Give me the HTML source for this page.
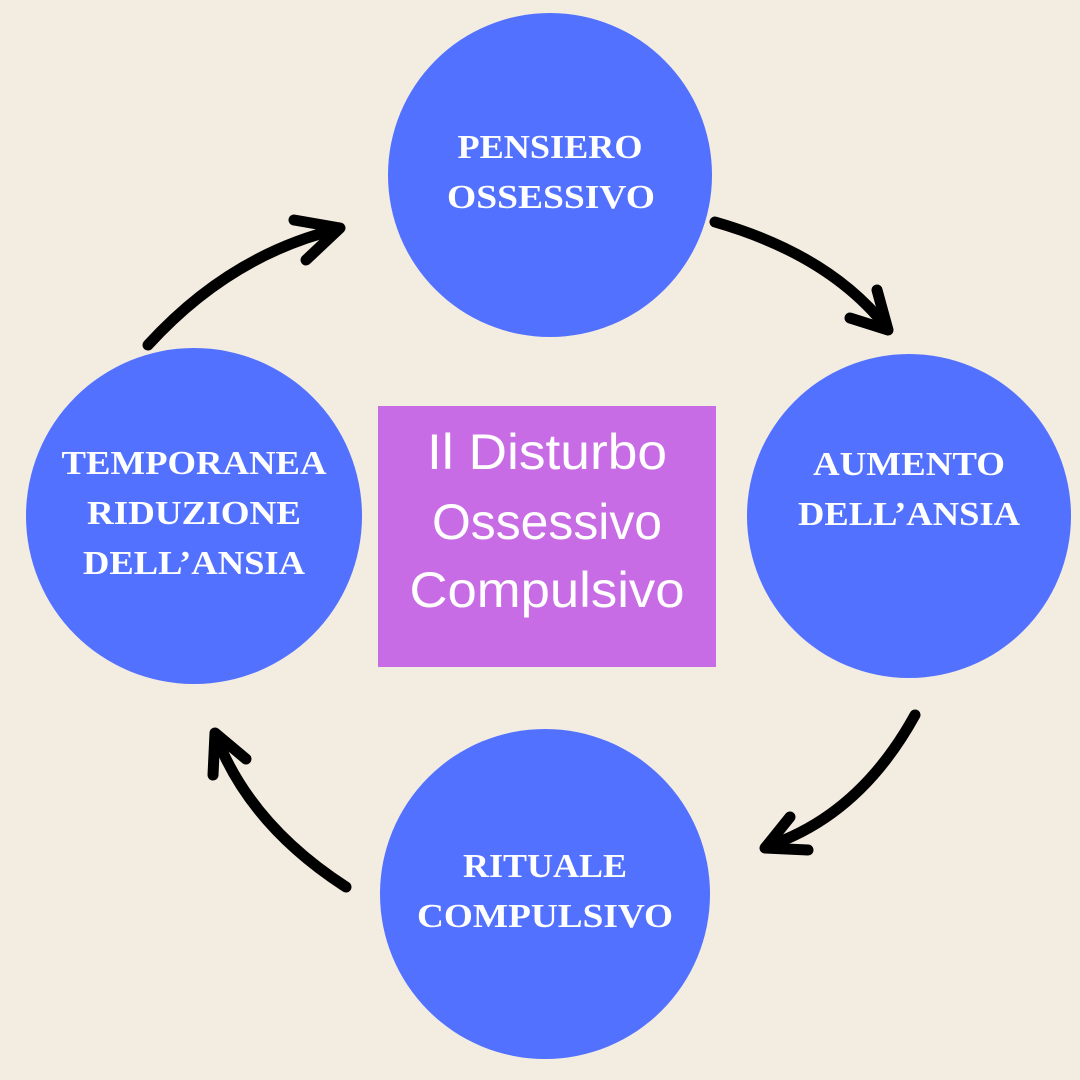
<!DOCTYPE html>
<html><head><meta charset="utf-8"><style>
html,body{margin:0;padding:0;background:#f3ece1;}
svg{display:block}
.c{font-family:"Liberation Serif",serif;font-weight:bold;font-size:34px;fill:#fff;text-anchor:middle}
.b{font-family:"Liberation Sans",sans-serif;font-size:50px;fill:#fff;text-anchor:middle}
.a{fill:none;stroke:#000;stroke-width:11;stroke-linecap:round;stroke-linejoin:round}
</style></head><body>
<svg width="1080" height="1080" viewBox="0 0 1080 1080">
<rect width="1080" height="1080" fill="#f3ece1"/>
<circle cx="550" cy="175" r="162" fill="#5271ff"/>
<circle cx="909" cy="516" r="162" fill="#5271ff"/>
<circle cx="545" cy="894" r="165" fill="#5271ff"/>
<circle cx="194" cy="516" r="168" fill="#5271ff"/>
<rect x="378" y="406" width="338" height="261" fill="#c86ce6"/>
<text class="b" x="547" y="469" textLength="240" lengthAdjust="spacingAndGlyphs">Il Disturbo</text>
<text class="b" x="547" y="539" textLength="230" lengthAdjust="spacingAndGlyphs">Ossessivo</text>
<text class="b" x="547" y="607" textLength="275" lengthAdjust="spacingAndGlyphs">Compulsivo</text>
<text class="c" x="550" y="158" textLength="185" lengthAdjust="spacingAndGlyphs">PENSIERO</text>
<text class="c" x="551" y="208" textLength="208" lengthAdjust="spacingAndGlyphs">OSSESSIVO</text>
<text class="c" x="909" y="475" textLength="192" lengthAdjust="spacingAndGlyphs">AUMENTO</text>
<text class="c" x="909" y="525" textLength="222" lengthAdjust="spacingAndGlyphs">DELL’ANSIA</text>
<text class="c" x="545" y="877" textLength="164" lengthAdjust="spacingAndGlyphs">RITUALE</text>
<text class="c" x="545" y="927" textLength="256" lengthAdjust="spacingAndGlyphs">COMPULSIVO</text>
<text class="c" x="194" y="474" textLength="265" lengthAdjust="spacingAndGlyphs">TEMPORANEA</text>
<text class="c" x="194" y="524" textLength="214" lengthAdjust="spacingAndGlyphs">RIDUZIONE</text>
<text class="c" x="194" y="574" textLength="222" lengthAdjust="spacingAndGlyphs">DELL’ANSIA</text>
<path class="a" d="M148 345 Q230 255 338 229"/>
<path class="a" d="M294 220 L340 228 L306 260"/>
<path class="a" d="M715 222 Q830 255 887 328"/>
<path class="a" d="M877 290 L888 330 L850 318"/>
<path class="a" d="M915 715 Q860 815 768 846"/>
<path class="a" d="M790 817 L765 848 L808 850"/>
<path class="a" d="M346 887 Q250 825 216 736"/>
<path class="a" d="M213 775 L215 733 L246 759"/>
</svg>
</body></html>
